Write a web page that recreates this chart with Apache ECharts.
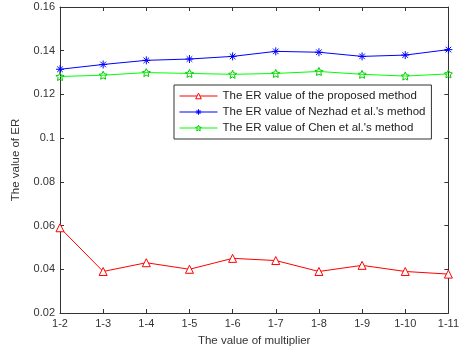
<!DOCTYPE html>
<html>
<head>
<meta charset="utf-8">
<script src="https://cdn.jsdelivr.net/npm/echarts@6/dist/echarts.min.js"></script>
<style>
  html, body { margin: 0; padding: 0; background: #fff; }
  #chart { width: 462px; height: 352px; }
</style>
</head>
<body>
<div id="chart"></div>
<script>
// multiplier categories on the x axis
var categories = ['1-2', '1-3', '1-4', '1-5', '1-6', '1-7', '1-8', '1-9', '1-10', '1-11'];
// ER values
var proposed = [0.0590, 0.0390, 0.0430, 0.0400, 0.0450, 0.0440, 0.0390, 0.0418, 0.0390, 0.0378];
var nezhad = [0.1315, 0.1337, 0.1356, 0.1362, 0.1374, 0.1397, 0.1393, 0.1374, 0.1380, 0.1405];
var chen = [0.1282, 0.1288, 0.1300, 0.1296, 0.1292, 0.1296, 0.1305, 0.1292, 0.1284, 0.1294];
var seriesNames = [
  'The ER value of the proposed method',
  "The ER value of Nezhad et al.'s method",
  "The ER value of Chen et al.'s method"
];

var font = 'Liberation Sans, Arial, sans-serif';
var axisCol = '#333';
// asterisk drawn as strokes
var asterisk = 'path://M0,-10L0,10M-10,0L10,0M-7,-7L7,7M-7,7L7,-7';
var starGlyph = 'path://M0,-10L2.9,-4L9.5,-3.1L4.7,1.5L5.9,8.1L0,5L-5.9,8.1L-4.7,1.5L-9.5,-3.1L-2.9,-4Z';

var chart = echarts.init(document.getElementById('chart'));

function baseX(show) {
  return {
    type: 'category',
    data: categories,
    boundaryGap: false,
    position: show ? 'bottom' : 'top',
    axisLine: { show: true, onZero: false, lineStyle: { color: axisCol, width: 1 } },
    axisTick: { show: true, inside: true, length: 4, alignWithLabel: true, lineStyle: { color: axisCol } },
    axisLabel: { show: show, color: '#333', fontSize: 11, fontFamily: font, margin: 5 },
    splitLine: { show: false },
    name: show ? 'The value of multiplier' : '',
    nameLocation: 'middle',
    nameGap: 22,
    nameTextStyle: { color: '#333', fontSize: 11.5, fontFamily: font }
  };
}
function baseY(show) {
  return {
    type: 'value',
    min: 0.02,
    max: 0.16,
    interval: 0.02,
    position: show ? 'left' : 'right',
    axisLine: { show: true, lineStyle: { color: axisCol, width: 1 } },
    axisTick: { show: true, inside: true, length: 4, lineStyle: { color: axisCol } },
    axisLabel: {
      show: show, color: '#333', fontSize: 11, fontFamily: font, margin: 5,
      formatter: function (v) { return String(+v.toFixed(2)); }
    },
    splitLine: { show: false },
    name: show ? 'The value of ER' : '',
    nameLocation: 'middle',
    nameGap: 38,
    nameTextStyle: { color: '#333', fontSize: 11.5, fontFamily: font }
  };
}

chart.setOption({
  animation: false,
  backgroundColor: '#fff',
  grid: { left: 60, right: 10, top: 7, bottom: 36 },
  xAxis: [baseX(true), baseX(false)],
  yAxis: [baseY(true), baseY(false)],
  legend: {
    left: 174,
    top: 85,
    width: 256,
    orient: 'vertical',
    itemGap: 4,
    itemWidth: 38,
    itemHeight: 7,
    padding: [5, 6, 5, 5],
    borderColor: '#333',
    borderWidth: 1,
    backgroundColor: '#fff',
    itemStyle: { borderWidth: 1 },
    lineStyle: { width: 1 },
    textStyle: { color: '#222', fontSize: 11.5, fontFamily: font },
    data: seriesNames
  },
  series: [
    {
      name: seriesNames[0], type: 'line', data: proposed,
      symbol: 'triangle', symbolSize: 8,
      lineStyle: { color: '#ff0000', width: 1 },
      itemStyle: { color: '#fff', borderColor: '#ff0000', borderWidth: 1 }
    },
    {
      name: seriesNames[1], type: 'line', data: nezhad,
      symbol: asterisk, symbolSize: 8,
      lineStyle: { color: '#0000ff', width: 1 },
      itemStyle: { color: 'none', borderColor: '#0000ff', borderWidth: 1 }
    },
    {
      name: seriesNames[2], type: 'line', data: chen,
      symbol: starGlyph, symbolSize: 8,
      lineStyle: { color: '#00ff00', width: 1 },
      itemStyle: { color: 'none', borderColor: '#00cc00', borderWidth: 1 }
    }
  ]
});
</script>
</body>
</html>
